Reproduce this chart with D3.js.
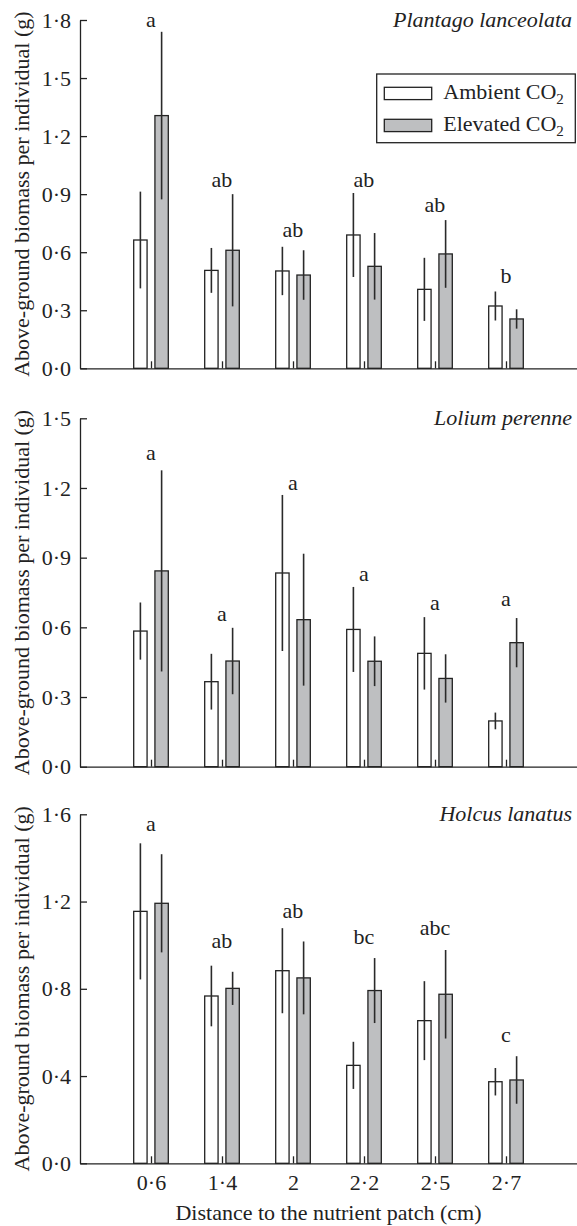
<!DOCTYPE html>
<html><head><meta charset="utf-8">
<script src="https://cdn.jsdelivr.net/npm/d3@7"></script>
<style>
body{margin:0;background:#fff}
svg{display:block}
text{font-family:"Liberation Serif","Times New Roman",serif;fill:#222}
</style>
</head><body><svg id="chart" width="577" height="1226"></svg>
<script>
// ---- data ----
const categories = ["0·6", "1·4", "2", "2·2", "2·5", "2·7"];
const seriesKeys = ["Ambient", "Elevated"];

const plantagoAmbient    = [0.663, 0.506, 0.503, 0.689, 0.408, 0.322];
const plantagoAmbientSE  = [0.250, 0.116, 0.125, 0.217, 0.163, 0.075];
const plantagoElevated   = [1.306, 0.610, 0.482, 0.527, 0.591, 0.255];
const plantagoElevatedSE = [0.433, 0.290, 0.128, 0.172, 0.175, 0.050];
const plantagoLetters    = ["a", "ab", "ab", "ab", "ab", "b"];
const plantagoLetterY    = [1.762, 0.938, 0.677, 0.935, 0.808, 0.442];
const plantagoTicks      = [0, 0.3, 0.6, 0.9, 1.2, 1.5, 1.8];

const loliumAmbient    = [0.584, 0.366, 0.834, 0.591, 0.488, 0.197];
const loliumAmbientSE  = [0.123, 0.120, 0.336, 0.183, 0.156, 0.036];
const loliumElevated   = [0.843, 0.455, 0.633, 0.454, 0.380, 0.534];
const loliumElevatedSE = [0.433, 0.143, 0.284, 0.107, 0.104, 0.106];
const loliumLetters    = ["a", "a", "a", "a", "a", "a"];
const loliumLetterY    = [1.320, 0.629, 1.191, 0.800, 0.675, 0.693];
const loliumTicks      = [0, 0.3, 0.6, 0.9, 1.2, 1.5];

const holcusAmbient    = [1.155, 0.767, 0.883, 0.449, 0.654, 0.374];
const holcusAmbientSE  = [0.312, 0.139, 0.195, 0.108, 0.181, 0.063];
const holcusElevated   = [1.192, 0.802, 0.850, 0.792, 0.775, 0.382];
const holcusElevatedSE = [0.225, 0.076, 0.167, 0.149, 0.203, 0.109];
const holcusLetters    = ["a", "ab", "ab", "bc", "abc", "c"];
const holcusLetterY    = [1.524, 0.986, 1.126, 1.006, 1.047, 0.558];
const holcusTicks      = [0, 0.4, 0.8, 1.2, 1.6];

const yTitle = "Above-ground biomass per individual (g)";
const xTitle = "Distance to the nutrient patch (cm)";

// ---- layout ----
const svg = d3.select("#chart");
const FS = 22;
const INK = "#222";
const GREY = "#bebfc1";
const left = 80, right = 577;

const x = d3.scalePoint().domain(categories).range([left, right]).padding(1);
const sub = d3.scaleBand().domain(seriesKeys).range([-17.3, 17.3]).paddingInner(0.37);

const panels = [
  {title: "Plantago lanceolata", amb: plantagoAmbient, ambSE: plantagoAmbientSE,
   elev: plantagoElevated, elevSE: plantagoElevatedSE, letters: plantagoLetters,
   letterY: plantagoLetterY, ticks: plantagoTicks, top: 20, bottom: 368.3, legend: true, xLabels: false},
  {title: "Lolium perenne", amb: loliumAmbient, ambSE: loliumAmbientSE,
   elev: loliumElevated, elevSE: loliumElevatedSE, letters: loliumLetters,
   letterY: loliumLetterY, ticks: loliumTicks, top: 418.3, bottom: 766.7, legend: false, xLabels: false},
  {title: "Holcus lanatus", amb: holcusAmbient, ambSE: holcusAmbientSE,
   elev: holcusElevated, elevSE: holcusElevatedSE, letters: holcusLetters,
   letterY: holcusLetterY, ticks: holcusTicks, top: 814.3, bottom: 1163.3, legend: false, xLabels: true}
];

const fmt = d => d3.format(".1f")(d).replace(".", "·");

panels.forEach(p => {
  const g = svg.append("g");
  const y = d3.scaleLinear().domain([0, d3.max(p.ticks)]).range([p.bottom, p.top]);

  const rows = [];
  categories.forEach((c, i) => {
    rows.push({cat: c, key: "Ambient", v: p.amb[i], se: p.ambSE[i]});
    rows.push({cat: c, key: "Elevated", v: p.elev[i], se: p.elevSE[i]});
  });

  // bars
  g.selectAll("rect.bar").data(rows).join("rect")
    .attr("class", "bar")
    .attr("x", d => x(d.cat) + sub(d.key))
    .attr("width", sub.bandwidth())
    .attr("y", d => y(d.v))
    .attr("height", d => y(0) - y(d.v))
    .attr("fill", d => d.key === "Ambient" ? "#fff" : GREY)
    .attr("stroke", INK)
    .attr("stroke-width", 1.3);

  // error bars
  g.selectAll("line.err").data(rows).join("line")
    .attr("class", "err")
    .attr("x1", d => x(d.cat) + sub(d.key) + sub.bandwidth() / 2)
    .attr("x2", d => x(d.cat) + sub(d.key) + sub.bandwidth() / 2)
    .attr("y1", d => y(d.v + d.se))
    .attr("y2", d => y(d.v - d.se))
    .attr("stroke", "#2a2a2a")
    .attr("stroke-width", 1.6);

  // letters
  g.selectAll("text.letter").data(categories).join("text")
    .attr("class", "letter")
    .attr("x", d => x(d))
    .attr("y", (d, i) => y(p.letterY[i]))
    .attr("text-anchor", "middle")
    .attr("font-size", FS)
    .text((d, i) => p.letters[i]);

  // y axis
  const ya = g.append("g").attr("transform", `translate(${left},0)`)
    .call(d3.axisLeft(y).tickValues(p.ticks).tickFormat(fmt)
      .tickSizeInner(-7).tickSizeOuter(0).tickPadding(9));
  // x axis
  const xa = g.append("g").attr("transform", `translate(0,${p.bottom})`)
    .call(d3.axisBottom(x).tickSizeInner(-7).tickSizeOuter(0).tickPadding(11)
      .tickFormat(p.xLabels ? (d => d) : () => ""));
  [ya, xa].forEach(a => {
    a.attr("font-family", null).attr("font-size", FS);
    a.selectAll("path,line").attr("stroke", INK).attr("stroke-width", 1.3);
    a.selectAll("text").attr("fill", INK);
  });

  // panel title
  g.append("text").attr("x", 572).attr("y", p.top + 6.5)
    .attr("text-anchor", "end").attr("font-style", "italic").attr("font-size", FS)
    .text(p.title);

  // y title
  g.append("text")
    .attr("transform", `translate(29,${(p.top + p.bottom) / 2}) rotate(-90)`)
    .attr("text-anchor", "middle").attr("font-size", FS)
    .text(yTitle);

  // legend
  if (p.legend) {
    const lg = g.append("g");
    lg.append("rect").attr("x", 376.7).attr("y", 74).attr("width", 198.6).attr("height", 68.7)
      .attr("fill", "#fff").attr("stroke", INK).attr("stroke-width", 1.3);
    const items = [{key: "Ambient", fill: "#fff", label: "Ambient CO"},
                   {key: "Elevated", fill: GREY, label: "Elevated CO"}];
    items.forEach((it, i) => {
      lg.append("rect").attr("x", 384.3).attr("y", 87.3 + i * 32).attr("width", 47.4).attr("height", 12.3)
        .attr("fill", it.fill).attr("stroke", INK).attr("stroke-width", 1.3);
      const t = lg.append("text").attr("x", 443.3).attr("y", 99.3 + i * 31.5).attr("font-size", FS);
      t.append("tspan").text(it.label);
      t.append("tspan").attr("font-size", 15).attr("dy", 5).text("2");
    });
  }
});

// x title
svg.append("text").attr("x", (left + right) / 2).attr("y", 1220)
  .attr("text-anchor", "middle").attr("font-size", FS).text(xTitle);
</script>
</body></html>
